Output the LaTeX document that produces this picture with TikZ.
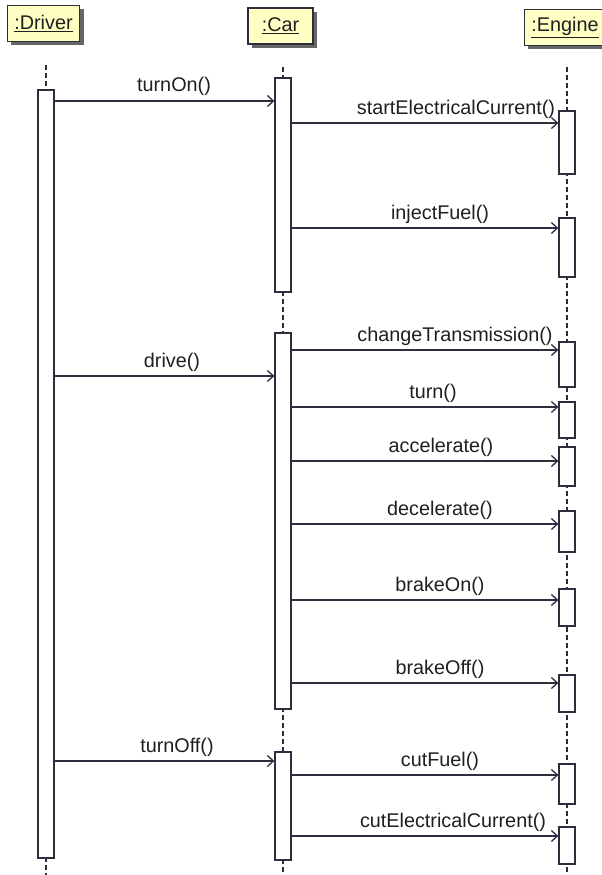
\documentclass[tikz,border=0pt]{standalone}
\usepackage{fontspec}
\setmainfont{Liberation Sans}
\usetikzlibrary{arrows.meta,shadows}
\definecolor{linecol}{RGB}{45,45,62}
\definecolor{headfill}{RGB}{255,255,196}
\begin{document}
\begin{tikzpicture}[x=1pt,y=-1pt,
  every node/.style={font=\fontsize{19.8}{23}\selectfont,text=black!88},
  head/.style={draw=linecol,line width=1.3pt,fill=headfill,minimum width=65pt,minimum height=36pt,
    inner xsep=7pt,drop shadow={shadow xshift=4pt,shadow yshift=-4pt,fill=black!60,opacity=1}},
  life/.style={draw=linecol,line width=1.3pt,dash pattern=on 5pt off 3pt},
  act/.style={draw=linecol,line width=1.3pt,fill=white,minimum width=16pt,inner sep=0pt},
  msg/.style={draw=linecol,line width=1.3pt,-{Straight Barb[length=6pt,width=11pt]}},
  lbl/.style={anchor=base,inner sep=0pt}]
  \useasboundingbox (0,0) rectangle (602,875);
  \node[head] (driver) at (43.5,23.5) {\underline{:Driver}};
  \node[head] (car) at (280.5,26) {\underline{:Car}};
  \node[head] (engine) at (565,27.5) {\underline{:Engine}};
  \coordinate (dtop) at (46,65);   \coordinate (dbot) at (46,875);
  \coordinate (ctop) at (283,67);  \coordinate (cbot) at (283,875);
  \coordinate (etop) at (567,67);  \coordinate (ebot) at (567,875);
  \draw[life] (dtop) -- (dbot);
  \draw[life] (ctop) -- (cbot);
  \draw[life] (etop) -- (ebot);
  \node[act,minimum height=768pt] (d) at (46,474) {};
  \node[act,minimum height=214pt] (c1) at (283,185) {};
  \node[act,minimum height=376pt] (c2) at (283,521) {};
  \node[act,minimum height=108pt] (c3) at (283,806) {};
  \draw[msg] (d.east |- 0,101) -- (c1.west |- 0,101);
  \node[lbl] (turnon) at (174,92) {turnOn()};
  \draw[msg] (d.east |- 0,376) -- (c2.west |- 0,376);
  \node[lbl] (drive) at (172,367) {drive()};
  \draw[msg] (d.east |- 0,761) -- (c3.west |- 0,761);
  \node[lbl] (turnoff) at (177,752) {turnOff()};
  \foreach \ya/\yb/\ym/\src/\lx/\txt [count=\i] in {111/174/123/1/456/startElectricalCurrent(),
      218/277/228/1/440/injectFuel(),342/387/350/2/455/changeTransmission(),
      402/438/407/2/433/turn(),447/486/461/2/441/accelerate(),511/552/524/2/440/decelerate(),
      589/626/600/2/440/brakeOn(),675/712/683/2/440/brakeOff(),764/804/775/3/440/cutFuel(),
      827/864/836/3/453/cutElectricalCurrent()} {
    \node[act,minimum height={(\yb-\ya)*1pt}] (e\i) at (567,{(\ya+\yb)/2}) {};
    \draw[msg] (c\src.east |- 0,\ym) -- (e\i.west |- 0,\ym);
    \node[lbl] (m\i) at (\lx,{\ym-9}) {\txt};
  }
\end{tikzpicture}
\end{document}
